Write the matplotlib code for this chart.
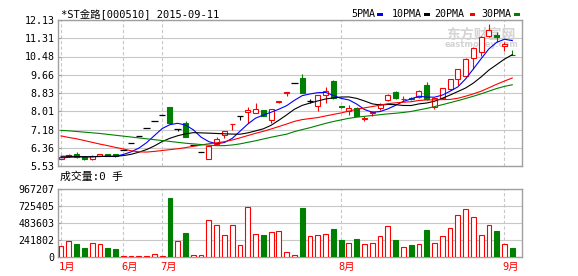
import matplotlib
matplotlib.use('Agg')
import matplotlib.pyplot as plt
from matplotlib.patches import Rectangle
import numpy as np
import pandas as pd

plt.rcParams['font.family'] = ['DejaVu Sans Mono', 'Noto Sans CJK SC']

# ---------------- data ----------------
title = '*ST金路[000510] 2015-09-11'
vol_title = '成交量:0 手'
month_labels = ['1月', '6月', '7月', '8月', '9月']
month_idx = [0, 8, 13, 36, 57]
price_ticks = [5.53, 6.36, 7.18, 8.01, 8.83, 9.66, 10.48, 11.31, 12.13]
vol_ticks = [0, 241802, 483603, 725405, 967207]
ma_names = ['5PMA', '10PMA', '20PMA', '30PMA']

opens = [5.86, 5.96, 6.08, 5.95, 5.86, 6.00, 6.06, 6.05, 6.26, 6.57,
         6.90, 7.24, 7.56, 7.84, 8.20, 7.20, 7.46, 6.50, 6.17, 5.86,
         6.53, 6.93, 7.42, 7.78, 7.96, 7.91, 8.06, 7.61, 8.42, 8.82,
         9.30, 9.49, 8.48, 8.26, 8.75, 9.37, 8.23, 8.02, 8.17, 7.67,
         7.91, 8.14, 8.51, 8.89, 8.54, 8.60, 8.66, 9.19, 8.18, 8.59,
         9.00, 9.45, 9.60, 10.40, 10.67, 11.41, 11.45, 10.95, 10.56]
highs = [5.97, 6.08, 6.15, 5.97, 6.02, 6.08, 6.08, 6.07, 6.26, 6.57,
         6.90, 7.24, 7.56, 7.84, 8.20, 7.20, 7.56, 6.50, 6.17, 6.47,
         6.86, 7.11, 7.44, 7.78, 8.18, 8.36, 8.08, 8.11, 8.48, 8.86,
         9.30, 9.69, 8.56, 8.76, 9.12, 9.40, 8.25, 8.28, 8.19, 7.80,
         8.02, 8.40, 8.78, 8.92, 8.68, 8.66, 8.95, 9.34, 8.60, 9.06,
         9.48, 9.93, 10.40, 10.90, 11.40, 11.95, 11.60, 11.12, 10.77]
lows = [5.83, 5.93, 5.90, 5.80, 5.80, 5.97, 5.98, 5.94, 6.26, 6.57,
        6.90, 7.24, 7.56, 7.84, 7.46, 7.09, 6.84, 6.50, 6.17, 5.86,
        6.50, 6.78, 7.16, 7.62, 7.46, 7.91, 7.77, 7.49, 8.38, 8.71,
        9.30, 8.84, 8.40, 8.03, 8.36, 8.55, 8.15, 7.84, 7.78, 7.55,
        7.80, 8.06, 8.48, 8.58, 8.46, 8.50, 8.62, 8.52, 8.09, 8.55,
        8.98, 9.19, 9.55, 9.90, 10.50, 11.38, 11.15, 10.74, 10.54]
closes = [5.93, 6.04, 5.93, 5.84, 5.99, 6.05, 6.00, 5.96, 6.26, 6.57,
          6.90, 7.24, 7.56, 7.84, 7.46, 7.20, 6.84, 6.50, 6.17, 6.44,
          6.75, 7.09, 7.44, 7.78, 8.06, 8.09, 7.79, 8.09, 8.46, 8.86,
          9.30, 8.84, 8.48, 8.74, 8.93, 8.59, 8.19, 8.14, 7.80, 7.70,
          7.99, 8.32, 8.74, 8.62, 8.57, 8.57, 8.92, 8.55, 8.59, 9.04,
          9.45, 9.90, 10.35, 10.85, 11.35, 11.68, 11.38, 11.04, 10.55]
volumes = [161000, 232000, 180000, 123000, 204000, 190000, 123000, 109000, 9000, 9000,
           9000, 9000, 38000, 9000, 839000, 232000, 341000, 24000, 24000, 531000,
           460000, 318000, 460000, 175000, 716000, 332000, 308000, 360000, 375000, 76000,
           33000, 692000, 303000, 318000, 332000, 393000, 237000, 204000, 251000, 190000,
           204000, 303000, 446000, 237000, 147000, 166000, 190000, 379000, 204000, 303000,
           417000, 602000, 687000, 574000, 318000, 460000, 365000, 190000, 123000]

ma5_head = [5.90, 5.92, 5.94, 5.94]
ma10_head = [5.97, 5.97, 5.96, 5.95, 5.95, 5.96, 5.97, 5.97, 6.00]
ma20_head = [6.89, 6.82, 6.76, 6.68, 6.60, 6.52, 6.45, 6.37, 6.30, 6.22,
             6.17, 6.16, 6.19, 6.23, 6.27, 6.31, 6.36, 6.42, 6.48]
ma30_head = [7.14, 7.12, 7.09, 7.06, 7.03, 7.00, 6.96, 6.92, 6.88, 6.84,
             6.80, 6.76, 6.72, 6.68, 6.64, 6.60, 6.56, 6.53, 6.50, 6.47,
             6.45, 6.45, 6.48, 6.53, 6.60, 6.67, 6.75, 6.83, 6.90]

# ---------------- style ----------------
RED = '#ff0000'
GREEN = '#008000'
BLUE = '#0000ff'
BLACK = '#000000'
GRID = '#c8c8c8'
FRAME = '#a0a0a0'
FS = 7.2

W, H = 578, 276
fig = plt.figure(figsize=(W / 100, H / 100), dpi=100)


def rect(l, t, r, b):
    return [l / W, 1 - b / H, (r - l) / W, (b - t) / H]


ax = fig.add_axes(rect(58, 20, 522, 166))
axv = fig.add_axes(rect(58, 189, 522, 257))

n = len(closes)
x = np.arange(n)
o = np.array(opens); h = np.array(highs); l = np.array(lows); c = np.array(closes)
v = np.array(volumes)

s = pd.Series(closes)
mas = []
for win, head in [(5, ma5_head), (10, ma10_head), (20, ma20_head), (30, ma30_head)]:
    m = s.rolling(win).mean().to_numpy()
    m[:len(head)] = head
    mas.append(m)

xlim = (-0.39, 59.25)
body_w = 0.64

# ---- price panel ----
up = c > o
dn = c < o
flat = c == o
wick_cols = [RED if u else (GREEN if d else BLACK) for u, d in zip(up, dn)]
ax.vlines(x, l, h, colors=wick_cols, lw=0.8, zorder=3)
ax.bar(x[up], (c - o)[up], bottom=o[up], width=body_w, facecolor='white',
       edgecolor=RED, lw=0.8, zorder=4)
ax.bar(x[dn], (o - c)[dn], bottom=c[dn], width=body_w, facecolor=GREEN,
       edgecolor=GREEN, lw=0.8, zorder=4)
ax.hlines(c[flat], x[flat] - body_w / 2 - 0.1, x[flat] + body_w / 2 + 0.1,
          colors=BLACK, lw=0.9, zorder=4)

for m, col in zip(mas, [BLUE, BLACK, RED, GREEN]):
    ax.plot(x, m, color=col, lw=0.8, zorder=5)

ax.set_xlim(*xlim)
ax.set_ylim(price_ticks[0], price_ticks[-1])
ax.set_yticks(price_ticks)
ax.set_yticklabels(['%.2f' % t for t in price_ticks], fontsize=FS)
ax.set_xticks(month_idx)
ax.set_xticklabels([])

# watermark
ax.text(0.912, 0.90, '东方财富网', transform=ax.transAxes, ha='center', va='center',
        fontsize=10, fontweight='bold', color='#d4d4d4', zorder=1,
        family=['Noto Sans CJK SC', 'DejaVu Sans'])
ax.text(0.912, 0.83, 'eastmoney.com', transform=ax.transAxes, ha='center', va='center',
        fontsize=6, fontweight='bold', color='#d4d4d4', zorder=1,
        family=['DejaVu Sans'])

# ---- volume panel ----
vup = c >= o
axv.bar(x[vup], v[vup], width=0.62, facecolor='white', edgecolor=RED, lw=0.8, zorder=3)
axv.bar(x[~vup], v[~vup], width=0.62, facecolor=GREEN, edgecolor=GREEN, lw=0.8, zorder=3)
axv.set_xlim(*xlim)
axv.set_ylim(vol_ticks[0], vol_ticks[-1])
axv.set_yticks(vol_ticks)
axv.set_yticklabels([str(t) for t in vol_ticks], fontsize=FS)
axv.set_xticks(month_idx)
axv.set_xticklabels([])
for i, lab in zip(month_idx, month_labels):
    axv.text(i - 0.3, -0.15, lab, transform=axv.get_xaxis_transform(),
             ha='left', va='center', color=RED, fontsize=FS + 0.3)

for a in (ax, axv):
    for sp in a.spines.values():
        sp.set_color(FRAME)
        sp.set_linewidth(1.0)
    a.tick_params(axis='y', direction='in', length=2, color=FRAME, pad=2.5, labelcolor='black')
    a.tick_params(axis='x', length=0)
    a.grid(axis='y', color=GRID, lw=0.8, ls='-', zorder=0)
    a.grid(axis='x', color=GRID, lw=0.8, ls=(0, (3, 2)), zorder=0)
    a.set_axisbelow(True)

# ---- overlay texts (title, legend) in pixel coordinates ----
ov = fig.add_axes([0, 0, 1, 1])
ov.set_xlim(0, W)
ov.set_ylim(H, 0)
ov.axis('off')
ov.patch.set_alpha(0)

ov.text(61, 14, title, ha='left', va='center', fontsize=FS + 0.3)
ov.text(60, 177, vol_title, ha='left', va='center', fontsize=FS + 0.6)

leg_x = [351.5, 391.5, 434, 481.5]
sq_x = [377, 424, 469.5, 514]
for name, tx, sx, col in zip(ma_names, leg_x, sq_x, [BLUE, BLACK, RED, GREEN]):
    ov.text(tx, 14, name, ha='left', va='center', fontsize=FS)
    ov.add_patch(Rectangle((sx, 12.5), 5.5, 3, facecolor=col, edgecolor='none'))

fig.savefig('out.png', dpi=100)
